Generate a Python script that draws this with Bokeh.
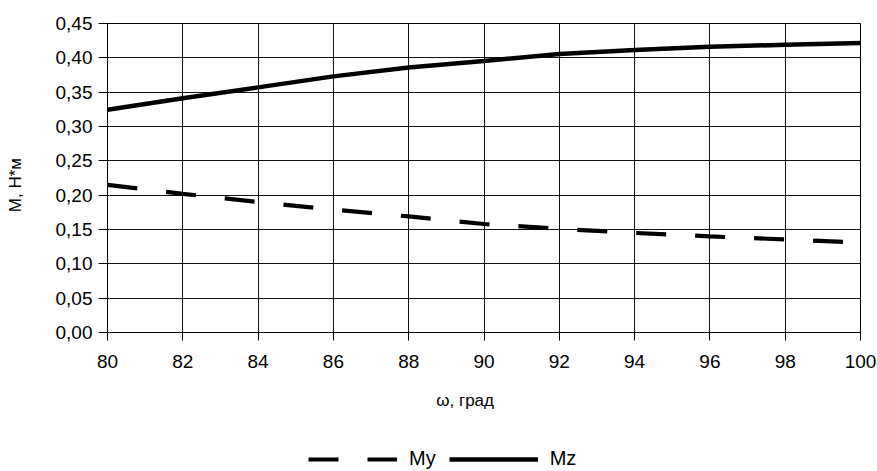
from bokeh.plotting import figure
from bokeh.layouts import column
from bokeh.models import (Range1d, FixedTicker, CustomJSTickFormatter, Legend, LegendItem)
from bokeh.embed import file_html
from bokeh.resources import INLINE

omega = [80, 82, 84, 86, 88, 90, 92, 94, 96, 98, 100]
my_vals = [0.215, 0.202, 0.190, 0.179, 0.169, 0.158, 0.151, 0.145, 0.140, 0.1355, 0.131]
mz_vals = [0.3245, 0.341, 0.357, 0.373, 0.386, 0.3955, 0.4055, 0.4115, 0.416, 0.419, 0.4215]
x_ticks = [80, 82, 84, 86, 88, 90, 92, 94, 96, 98, 100]
y_ticks = [0.0, 0.05, 0.10, 0.15, 0.20, 0.25, 0.30, 0.35, 0.40, 0.45]
series_names = ["My", "Mz"]
x_title = "ω, град"
y_title = "М, Н*м"

FONT = "Liberation Sans"
MY_STYLE = dict(line_color="black", line_width=4.2, line_dash="30 29")
MZ_STYLE = dict(line_color="black", line_width=4.5)
NBSP = "\u00a0"

p = figure(width=877, height=440, output_backend="svg", toolbar_location=None,
           x_range=Range1d(80, 100), y_range=Range1d(0, 0.45),
           min_border_left=107, min_border_right=17, min_border_top=23, min_border_bottom=108)

p.outline_line_color = "black"
p.outline_line_width = 1

for ax in (p.xaxis[0], p.yaxis[0]):
    ax.axis_line_color = "black"
    ax.major_tick_line_color = "black"
    ax.minor_tick_line_color = None
    ax.major_tick_in = 0
    ax.major_label_text_font = FONT
    ax.major_label_text_font_size = "19px"
    ax.major_label_text_color = "black"
    ax.axis_label_text_font = FONT
    ax.axis_label_text_font_size = "17px"
    ax.axis_label_text_font_style = "normal"
    ax.axis_label_text_color = "black"

p.xaxis.ticker = FixedTicker(ticks=x_ticks)
p.yaxis.ticker = FixedTicker(ticks=y_ticks)
p.yaxis.formatter = CustomJSTickFormatter(code="return tick.toFixed(2).replace('.', ',');")
p.xaxis.major_tick_out = 8
p.yaxis.major_tick_out = 9
p.xaxis.major_label_standoff = 14
p.yaxis.major_label_standoff = 6
# trailing no-break spaces nudge the titles off-centre as in the reference
p.xaxis.axis_label = x_title + NBSP * 8
p.yaxis.axis_label = y_title + NBSP * 3
p.xaxis.axis_label_standoff = 20
p.yaxis.axis_label_standoff = 28

p.xgrid.ticker = FixedTicker(ticks=x_ticks)
p.ygrid.ticker = FixedTicker(ticks=y_ticks)
for g in (p.xgrid[0], p.ygrid[0]):
    g.grid_line_color = "#111111"
    g.grid_line_width = 1

p.line(omega, my_vals, **MY_STYLE)
p.line(omega, mz_vals, **MZ_STYLE)

# legend strip below the chart
lg = figure(width=877, height=31, output_backend="svg", toolbar_location=None,
            x_axis_location=None, y_axis_location=None,
            x_range=Range1d(80, 100), y_range=Range1d(0, 0.45),
            min_border_left=0, min_border_right=0, min_border_top=0, min_border_bottom=0)
lg.outline_line_color = None
lg.xgrid.visible = False
lg.ygrid.visible = False
l_my = lg.line(omega, my_vals, **MY_STYLE)
l_mz = lg.line(omega, mz_vals, **MZ_STYLE)
l_my.visible = False
l_mz.visible = False

legend = Legend(items=[LegendItem(label=series_names[0], renderers=[l_my]),
                       LegendItem(label=series_names[1], renderers=[l_mz])],
                orientation="horizontal", location=(201, 1))
legend.border_line_color = None
legend.background_fill_alpha = 0
legend.inactive_fill_alpha = 0
legend.padding = 0
legend.margin = 0
legend.spacing = 13
legend.glyph_width = 89
legend.glyph_height = 20
legend.label_height = 20
legend.label_standoff = 12
legend.label_text_font = FONT
legend.label_text_font_size = "20px"
legend.label_text_color = "black"
lg.add_layout(legend, "center")

layout = column(p, lg, spacing=0)
open("out.html", "w").write(file_html(layout, INLINE))
